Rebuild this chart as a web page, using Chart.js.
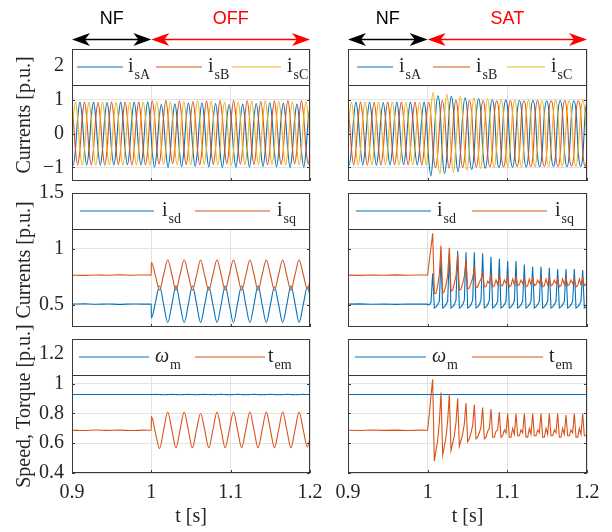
<!DOCTYPE html>
<html>
<head>
<meta charset="utf-8">
<script src="https://cdn.jsdelivr.net/npm/chart.js@4/dist/chart.umd.min.js"></script>
<style>
  body { margin: 0; background: #fff; }
  #fig { position: relative; width: 612px; height: 532px; overflow: hidden; }
  #fig canvas { position: absolute; }
</style>
</head>
<body>
<div id="fig">
  <canvas id="abcOff"></canvas>
  <canvas id="abcSat"></canvas>
  <canvas id="dqOff"></canvas>
  <canvas id="dqSat"></canvas>
  <canvas id="mechOff"></canvas>
  <canvas id="mechSat"></canvas>
</div>
<script>
// ---- ticks ----
const xTicks = [0.9, 1.0, 1.1, 1.2];
const yTicksAbc = [-1, 0, 1, 2];
const yTicksDq = [0.5, 1, 1.5];
const yTicksMech = [0.4, 0.6, 0.8, 1, 1.2];

// sample instants: start time + fixed step
const grid = (t0, dt, n) => Array.from({length: n}, (_, i) => +(t0 + i * dt).toFixed(5));
const abcTime = grid(0.8986, 0.002849, 107);
const preTime = [0.9, 0.915, 0.93, 0.945, 0.96, 0.975, 0.99, 0.9999];
const offTime = grid(1.0, 0.005175, 40);
const satTime = grid(1.0, 0.002092, 97);
const flatTime = [1.0, 1.05, 1.1, 1.15, 1.2];

// ---- phase currents, healthy part (same run for both cases) ----
const isA_nf = [-0.47,-0.93,-0.47,0.47,0.93,0.47, -0.46,-0.93,-0.47,0.47,0.93,0.46, -0.47,-0.93,-0.46,0.47,0.92,0.47,
  -0.47,-0.93,-0.47,0.46,0.93,0.47, -0.46,-0.92,-0.47,0.47,0.93,0.47, -0.47,-0.93,-0.47,0.47,0.93,0.46];
const isB_nf = [0.93,0.47,-0.46,-0.93,-0.47,0.46, 0.93,0.47,-0.47,-0.93,-0.46,0.47, 0.92,0.46,-0.47,-0.93,-0.47,0.47,
  0.93,0.47,-0.46,-0.92,-0.47,0.47, 0.93,0.46,-0.47,-0.93,-0.46,0.47, 0.93,0.47,-0.47,-0.93,-0.47,0.47];
const isC_nf = [-0.46,0.46,0.93,0.47,-0.47,-0.93, -0.47,0.47,0.93,0.46,-0.47,-0.93, -0.46,0.47,0.93,0.47,-0.46,-0.92,
  -0.47,0.47,0.93,0.47,-0.47,-0.93, -0.47,0.47,0.92,0.46,-0.47,-0.93, -0.46,0.46,0.93,0.47,-0.46,-0.93];

// ---- phase currents after the OFF fault ----
const isA_off = [-0.52,-0.99,-0.53,0.40,0.86,0.41, -0.51,-1.00,-0.52,0.42,0.88,0.43, -0.50,-0.98,-0.50,0.44,0.90,0.44,
  -0.49,-0.97,-0.49,0.45,0.91,0.45, -0.50,-0.98,-0.51,0.43,0.89,0.42, -0.52,-1.00,-0.53,0.41,0.86,0.40,
  -0.52,-0.99,-0.52,0.41,0.87,0.42, -0.51,-0.99,-0.51,0.43,0.89,0.44, -0.49,-0.97,-0.49,0.45,0.91,0.45,
  -0.50,-0.98,-0.50,0.44,0.90,0.43, -0.52,-1.00,-0.52,0.41,0.87,0.41, -0.52,-0.99,-0.52,0.42,0.88];
const isB_off = [0.97,0.50,-0.44,-0.90,-0.45,0.49, 0.98,0.51,-0.43,-0.89,-0.44,0.50, 0.96,0.49,-0.45,-0.91,-0.46,0.48,
  0.95,0.48,-0.46,-0.92,-0.47,0.47, 0.96,0.49,-0.45,-0.91,-0.45,0.49, 0.98,0.51,-0.43,-0.89,-0.43,0.50,
  0.98,0.50,-0.44,-0.90,-0.44,0.50, 0.97,0.49,-0.45,-0.91,-0.46,0.48, 0.95,0.48,-0.46,-0.92,-0.47,0.47,
  0.96,0.49,-0.45,-0.91,-0.45,0.49, 0.98,0.51,-0.43,-0.89,-0.44,0.50, 0.97,0.50,-0.44,-0.90,-0.45];
const isC_off = [-0.45,0.47,0.94,0.48,-0.44,-0.92, -0.46,0.46,0.93,0.47,-0.45,-0.93, -0.46,0.47,0.95,0.49,-0.44,-0.92,
  -0.45,0.49,0.97,0.50,-0.43,-0.91, -0.44,0.48,0.96,0.49,-0.44,-0.92, -0.46,0.46,0.93,0.47,-0.45,-0.93,
  -0.46,0.46,0.94,0.48,-0.45,-0.92, -0.45,0.48,0.96,0.49,-0.44,-0.91, -0.44,0.49,0.97,0.50,-0.43,-0.91,
  -0.45,0.48,0.95,0.49,-0.44,-0.92, -0.46,0.46,0.93,0.47,-0.45,-0.93, -0.46,0.47,0.94,0.48,-0.44];

// ---- phase currents after the SAT fault ----
const isA_sat = [-0.70,-1.25,-0.62,0.50,1.12,0.78, -0.55,-1.18,-0.70,0.58,1.10,0.66, -0.62,-1.12,-0.60,0.52,1.06,0.70,
  -0.60,-1.06,-0.62,0.56,1.03,0.64, -0.62,-1.02,-0.58,0.58,1.00,0.66, -0.60,-1.00,-0.62,0.60,0.99,0.62,
  -0.63,-0.99,-0.58,0.58,0.98,0.65, -0.60,-0.98,-0.62,0.62,0.98,0.60, -0.64,-0.98,-0.58,0.58,0.97,0.65,
  -0.60,-0.97,-0.62,0.62,0.98,0.60, -0.64,-0.98,-0.58,0.58,0.97,0.64, -0.60,-0.97,-0.62,0.62,0.98];
const isB_sat = [0.92,0.55,-0.55,-1.00,-0.62,0.40, 0.98,0.62,-0.48,-1.02,-0.58,0.50, 0.99,0.58,-0.52,-1.00,-0.60,0.52,
  0.98,0.60,-0.55,-0.99,-0.58,0.55, 0.98,0.58,-0.58,-0.98,-0.60,0.58, 0.97,0.62,-0.60,-0.98,-0.62,0.58,
  0.98,0.60,-0.62,-0.97,-0.60,0.62, 0.97,0.64,-0.60,-0.97,-0.64,0.60, 0.98,0.60,-0.64,-0.97,-0.60,0.64,
  0.97,0.64,-0.60,-0.97,-0.64,0.60, 0.98,0.60,-0.64,-0.96,-0.60,0.64, 0.97,0.64,-0.60,-0.97,-0.64];
const isC_sat = [-0.22,0.70,1.22,0.52,-0.74,-1.18, -0.43,0.56,1.16,0.60,-0.62,-1.14, -0.37,0.60,1.10,0.50,-0.62,-1.08,
  -0.44,0.58,1.06,0.56,-0.60,-1.04, -0.36,0.60,1.03,0.52,-0.64,-1.00, -0.37,0.62,1.00,0.56,-0.60,-0.99,
  -0.35,0.62,0.99,0.52,-0.64,-0.98, -0.37,0.60,0.99,0.56,-0.62,-0.98, -0.34,0.64,0.98,0.54,-0.64,-0.97,
  -0.37,0.60,0.99,0.56,-0.62,-0.97, -0.34,0.64,0.98,0.54,-0.64,-0.97, -0.37,0.60,0.99,0.56,-0.62];

// ---- dq currents, speed and torque before the fault ----
const isd_pre = [0.505,0.507,0.504,0.506,0.503,0.506,0.505,0.505];
const isq_pre = [0.765,0.762,0.766,0.763,0.767,0.764,0.766,0.765];
const wm_pre = [0.927,0.927,0.927,0.927,0.927,0.927,0.927,0.927];
const tem_pre = [0.687,0.685,0.689,0.686,0.688,0.685,0.688,0.687];

// ---- OFF ----
const isd_off = [0.38,0.52,0.67,0.50, 0.34,0.50,0.67,0.50, 0.34,0.50,0.67,0.51, 0.34,0.50,0.66,0.50, 0.34,0.50,0.67,0.50,
  0.34,0.51,0.67,0.50, 0.34,0.50,0.67,0.50, 0.34,0.50,0.66,0.50, 0.34,0.50,0.67,0.51, 0.34,0.50,0.66,0.50];
const isq_off = [0.88,0.76,0.63,0.77, 0.90,0.77,0.63,0.77, 0.90,0.77,0.63,0.76, 0.90,0.76,0.63,0.77, 0.90,0.77,0.63,0.77,
  0.90,0.77,0.63,0.76, 0.90,0.77,0.63,0.77, 0.90,0.77,0.63,0.77, 0.90,0.76,0.63,0.77, 0.90,0.77,0.64,0.77];
const wm_off = [0.927,0.928,0.927,0.926, 0.927,0.928,0.927,0.926, 0.927,0.928,0.927,0.926, 0.927,0.928,0.927,0.926,
  0.927,0.928,0.927,0.926, 0.927,0.928,0.927,0.926, 0.927,0.928,0.927,0.926, 0.927,0.928,0.927,0.926,
  0.927,0.928,0.927,0.926, 0.927,0.928,0.927,0.926];
const tem_off = [0.78,0.67,0.565,0.69, 0.81,0.69,0.57,0.69, 0.81,0.69,0.57,0.69, 0.80,0.69,0.57,0.69, 0.81,0.69,0.57,0.69,
  0.81,0.69,0.57,0.69, 0.81,0.69,0.57,0.69, 0.81,0.69,0.57,0.69, 0.81,0.69,0.57,0.69, 0.81,0.69,0.575,0.69];

// ---- SAT ----
const isd_sat = [0.50,0.50,0.52,0.78,0.47, 0.48,0.50,0.53,0.92,0.47, 0.48,0.50,0.53,0.96,0.47, 0.48,0.50,0.54,0.98,0.47,
  0.48,0.50,0.54,0.97,0.47, 0.48,0.50,0.54,0.97,0.47, 0.48,0.50,0.54,0.96,0.47, 0.48,0.50,0.54,0.93,0.47,
  0.48,0.50,0.53,0.91,0.47, 0.48,0.50,0.53,0.89,0.47, 0.48,0.50,0.53,0.89,0.47, 0.48,0.50,0.53,0.86,0.47,
  0.48,0.50,0.53,0.84,0.47, 0.48,0.50,0.53,0.84,0.47, 0.48,0.50,0.53,0.83,0.47, 0.48,0.50,0.53,0.82,0.47,
  0.48,0.50,0.53,0.82,0.47, 0.48,0.50,0.53,0.82,0.47, 0.48,0.50,0.53,0.81,0.47, 0.48,0.50];
const isq_sat = [0.77,0.90,1.01,1.14,0.60, 0.60,0.67,0.77,1.03,0.60, 0.62,0.68,0.76,1.01,0.62, 0.63,0.69,0.76,0.95,0.63,
  0.64,0.69,0.75,0.90,0.64, 0.65,0.69,0.74,0.83,0.65, 0.66,0.70,0.73,0.79,0.66, 0.66,0.71,0.69,0.77,0.66,
  0.67,0.72,0.68,0.76,0.67, 0.67,0.72,0.69,0.75,0.66, 0.67,0.73,0.68,0.75,0.67, 0.68,0.72,0.69,0.74,0.66,
  0.67,0.73,0.68,0.74,0.67, 0.68,0.72,0.69,0.74,0.66, 0.67,0.73,0.68,0.74,0.67, 0.68,0.72,0.69,0.73,0.66,
  0.67,0.73,0.68,0.74,0.67, 0.68,0.72,0.69,0.73,0.66, 0.67,0.73,0.68,0.74,0.67, 0.68,0.72];
const wm_sat = [0.927,0.927,0.927,0.927,0.927];
const tem_sat = [0.69,0.80,0.92,1.03,0.48, 0.55,0.62,0.74,0.94,0.52, 0.58,0.64,0.75,0.93,0.55, 0.60,0.65,0.74,0.90,0.58,
  0.62,0.66,0.73,0.87,0.61, 0.63,0.67,0.72,0.86,0.63, 0.64,0.67,0.71,0.84,0.63, 0.64,0.68,0.70,0.83,0.64,
  0.64,0.68,0.69,0.81,0.64, 0.65,0.69,0.67,0.80,0.64, 0.64,0.70,0.66,0.80,0.65, 0.65,0.69,0.67,0.80,0.64,
  0.64,0.70,0.66,0.80,0.65, 0.65,0.69,0.67,0.80,0.64, 0.64,0.70,0.66,0.80,0.65, 0.65,0.69,0.67,0.80,0.64,
  0.64,0.70,0.66,0.79,0.65, 0.65,0.69,0.67,0.80,0.64, 0.64,0.70,0.66,0.80,0.65, 0.65,0.69];

// ---- styling ----
const BLUE = '#0072BD', ORANGE = '#D95319', YELLOW = '#EDB120';
const INK = '#262626', AXIS = '#3a3a3a', GRID = '#e2e2e2';
const SERIF = '"Liberation Serif", "Times New Roman", serif';
const SANS = '"Liberation Sans", Arial, sans-serif';
const LEGEND_H = 36;

const pts = (ts, vs) => vs.map((v, i) => ({x: ts[i], y: v}));
function series(color, ts, vs, smooth, order) {
  return {data: pts(ts, vs), borderColor: color, borderWidth: 1.1, pointRadius: 0, fill: false,
    cubicInterpolationMode: smooth ? 'monotone' : 'default', tension: 0, order};
}
const fmt = v => { const r = Math.round(v * 10) / 10; return r < 0 ? '\u2212' + Math.abs(r) : String(r); };

function arrowHead(ctx, tipX, y, dir) {
  ctx.beginPath();
  ctx.moveTo(tipX, y);
  ctx.lineTo(tipX + dir * 18, y - 6.5);
  ctx.lineTo(tipX + dir * 13, y);
  ctx.lineTo(tipX + dir * 18, y + 6.5);
  ctx.closePath();
  ctx.fill();
}

// frame, inward ticks, legend strip, y title and phase header
function framePlugin(cfg) {
  return {
    id: 'frame',
    afterDatasetsDraw(chart) {
      const {ctx, chartArea: a, scales: {x, y}} = chart;
      ctx.save();
      ctx.strokeStyle = AXIS;
      ctx.lineWidth = 1;
      ctx.beginPath();
      xTicks.forEach(v => {
        const px = Math.round(x.getPixelForValue(v)) + 0.5;
        ctx.moveTo(px, a.bottom); ctx.lineTo(px, a.bottom - 3);
      });
      cfg.yTicks.forEach(v => {
        const py = Math.round(y.getPixelForValue(v)) + 0.5;
        ctx.moveTo(a.left, py); ctx.lineTo(a.left + 3, py);
        ctx.moveTo(a.right, py); ctx.lineTo(a.right - 3, py);
      });
      ctx.stroke();

      // legend strip across the top of the axes
      ctx.fillStyle = '#fff';
      ctx.fillRect(a.left, a.top, a.right - a.left, LEGEND_H);
      ctx.beginPath();
      ctx.moveTo(a.left, a.top + LEGEND_H + 0.5);
      ctx.lineTo(a.right, a.top + LEGEND_H + 0.5);
      ctx.stroke();
      ctx.strokeRect(a.left + 0.5, a.top + 0.5, a.right - a.left - 1, a.bottom - a.top - 1);

      const ly = a.top + 18;
      cfg.legend.forEach(it => {
        ctx.strokeStyle = it.color;
        ctx.lineWidth = 1.2;
        ctx.beginPath();
        ctx.moveTo(a.left + it.x0, ly);
        ctx.lineTo(a.left + it.x1, ly);
        ctx.stroke();
        ctx.fillStyle = INK;
        ctx.textAlign = 'left';
        ctx.textBaseline = 'alphabetic';
        ctx.font = (it.italic ? 'italic ' : '') + '20px ' + SERIF;
        const tx = a.left + it.tx;
        ctx.fillText(it.main, tx, ly + 5);
        const w = ctx.measureText(it.main).width;
        ctx.font = '14px ' + SERIF;
        ctx.fillText(it.sub, tx + w + 1, ly + 12);
      });

      if (cfg.yTitle) {
        ctx.save();
        ctx.translate(25, (a.top + a.bottom) / 2);
        ctx.rotate(-Math.PI / 2);
        ctx.fillStyle = INK;
        ctx.font = '20px ' + SERIF;
        ctx.textAlign = 'center';
        ctx.textBaseline = 'middle';
        ctx.fillText(cfg.yTitle, 0, 0);
        ctx.restore();
      }

      if (cfg.phases) {
        const yA = 39.5;
        cfg.phases.forEach(p => {
          const x0 = x.getPixelForValue(p.from), x1 = x.getPixelForValue(p.to);
          ctx.strokeStyle = p.color;
          ctx.fillStyle = p.color;
          ctx.lineWidth = 1.3;
          ctx.beginPath();
          ctx.moveTo(x0 + 12, yA); ctx.lineTo(x1 - 12, yA);
          ctx.stroke();
          arrowHead(ctx, x0, yA, 1);
          arrowHead(ctx, x1, yA, -1);
          ctx.font = '18px ' + SANS;
          ctx.textAlign = 'center';
          ctx.textBaseline = 'middle';
          ctx.fillText(p.label, (x0 + x1) / 2, 19);
        });
      }
      ctx.restore();
    }
  };
}

const COLS = {
  left: {left: 0, width: 330, yWidth: 72, padRight: 20, labels: true},
  right: {left: 320, width: 292, yWidth: 28, padRight: 25, labels: false}
};
const ROWS = {
  top: {top: 0, height: 182, padTop: 49, padBottom: 1, xHeight: 0, showX: false},
  mid: {top: 175, height: 153, padTop: 18, padBottom: 1, xHeight: 0, showX: false},
  bot: {top: 320, height: 212, padTop: 19, padBottom: 0, xHeight: 59, showX: true}
};

function makePanel(id, col, row, cfg) {
  const canvas = document.getElementById(id);
  canvas.style.left = col.left + 'px';
  canvas.style.top = row.top + 'px';
  canvas.width = col.width;
  canvas.height = row.height;
  const tickFont = {family: SERIF, size: 20};
  return new Chart(canvas, {
    type: 'line',
    data: {datasets: cfg.datasets},
    options: {
      responsive: false,
      animation: false,
      devicePixelRatio: 1,
      layout: {padding: {left: 0, right: col.padRight, top: row.padTop, bottom: row.padBottom}},
      plugins: {legend: {display: false}, tooltip: {enabled: false}},
      scales: {
        x: {
          type: 'linear', min: 0.9, max: 1.2,
          afterBuildTicks: s => { s.ticks = xTicks.map(v => ({value: v})); },
          afterFit: s => { s.height = row.xHeight; s.paddingLeft = 0; s.paddingRight = 0; },
          ticks: {display: row.showX, padding: 8, color: INK, font: tickFont, maxRotation: 0, autoSkip: false, callback: fmt},
          grid: {color: GRID, drawTicks: false},
          border: {display: false},
          title: {display: row.showX, text: 't [s]', color: INK, font: tickFont, padding: {top: 0, bottom: 3}}
        },
        y: {
          type: 'linear', min: cfg.yMin, max: cfg.yMax,
          afterBuildTicks: s => { s.ticks = cfg.yTicks.map(v => ({value: v})); },
          afterFit: s => { s.width = col.yWidth; s.paddingTop = 0; s.paddingBottom = 0; },
          ticks: {display: col.labels, padding: 8, color: INK, font: tickFont, autoSkip: false, callback: fmt},
          grid: {color: GRID, drawTicks: false},
          border: {display: false}
        }
      }
    },
    plugins: [framePlugin({
      yTicks: cfg.yTicks,
      legend: cfg.legend,
      yTitle: col.labels ? cfg.yTitle : null,
      phases: cfg.phases
    })]
  });
}

const abcLegendL = [
  {x0: 5, x1: 51, tx: 56, color: BLUE, main: 'i', sub: 'sA'},
  {x0: 84, x1: 130, tx: 136, color: ORANGE, main: 'i', sub: 'sB'},
  {x0: 160, x1: 209, tx: 215, color: YELLOW, main: 'i', sub: 'sC'}];
const abcLegendR = [
  {x0: 9, x1: 45, tx: 51, color: BLUE, main: 'i', sub: 'sA'},
  {x0: 85, x1: 122, tx: 128, color: ORANGE, main: 'i', sub: 'sB'},
  {x0: 159, x1: 197, tx: 203, color: YELLOW, main: 'i', sub: 'sC'}];
const dqLegendL = [
  {x0: 8, x1: 82, tx: 90, color: BLUE, main: 'i', sub: 'sd'},
  {x0: 123, x1: 198, tx: 205, color: ORANGE, main: 'i', sub: 'sq'}];
const dqLegendR = [
  {x0: 8, x1: 83, tx: 89, color: BLUE, main: 'i', sub: 'sd'},
  {x0: 124, x1: 199, tx: 207, color: ORANGE, main: 'i', sub: 'sq'}];
const mechLegendL = [
  {x0: 7, x1: 77, tx: 83, color: BLUE, main: '\u03c9', sub: 'm', italic: true},
  {x0: 123, x1: 193, tx: 196, color: ORANGE, main: 't', sub: 'em'}];
const mechLegendR = [
  {x0: 7, x1: 78, tx: 84, color: BLUE, main: '\u03c9', sub: 'm', italic: true},
  {x0: 124, x1: 195, tx: 201, color: ORANGE, main: 't', sub: 'em'}];

// phase currents
makePanel('abcOff', COLS.left, ROWS.top, {
  yMin: -1.4, yMax: 2.5, yTicks: yTicksAbc, yTitle: 'Currents [p.u.]', legend: abcLegendL,
  phases: [{label: 'NF', from: 0.9, to: 1.0, color: '#000'}, {label: 'OFF', from: 1.0, to: 1.2, color: '#ff0000'}],
  datasets: [
    series(BLUE, abcTime, isA_nf.concat(isA_off), true, 3),
    series(ORANGE, abcTime, isB_nf.concat(isB_off), true, 2),
    series(YELLOW, abcTime, isC_nf.concat(isC_off), true, 1)]
});
makePanel('abcSat', COLS.right, ROWS.top, {
  yMin: -1.4, yMax: 2.5, yTicks: yTicksAbc, legend: abcLegendR,
  phases: [{label: 'NF', from: 0.9, to: 1.0, color: '#000'}, {label: 'SAT', from: 1.0, to: 1.2, color: '#ff0000'}],
  datasets: [
    series(BLUE, abcTime, isA_nf.concat(isA_sat), true, 3),
    series(ORANGE, abcTime, isB_nf.concat(isB_sat), true, 2),
    series(YELLOW, abcTime, isC_nf.concat(isC_sat), true, 1)]
});

// dq currents
makePanel('dqOff', COLS.left, ROWS.mid, {
  yMin: 0.3, yMax: 1.5, yTicks: yTicksDq, yTitle: 'Currents [p.u.]', legend: dqLegendL,
  datasets: [
    series(BLUE, preTime.concat(offTime), isd_pre.concat(isd_off), true, 2),
    series(ORANGE, preTime.concat(offTime), isq_pre.concat(isq_off), true, 1)]
});
makePanel('dqSat', COLS.right, ROWS.mid, {
  yMin: 0.3, yMax: 1.5, yTicks: yTicksDq, legend: dqLegendR,
  datasets: [
    series(BLUE, preTime.concat(satTime), isd_pre.concat(isd_sat), false, 2),
    series(ORANGE, preTime.concat(satTime), isq_pre.concat(isq_sat), false, 1)]
});

// speed and torque
makePanel('mechOff', COLS.left, ROWS.bot, {
  yMin: 0.4, yMax: 1.3, yTicks: yTicksMech, yTitle: 'Speed, Torque [p.u.]', legend: mechLegendL,
  datasets: [
    series(BLUE, preTime.concat(offTime), wm_pre.concat(wm_off), true, 2),
    series(ORANGE, preTime.concat(offTime), tem_pre.concat(tem_off), true, 1)]
});
makePanel('mechSat', COLS.right, ROWS.bot, {
  yMin: 0.4, yMax: 1.3, yTicks: yTicksMech, legend: mechLegendR,
  datasets: [
    series(BLUE, preTime.concat(flatTime), wm_pre.concat(wm_sat), false, 2),
    series(ORANGE, preTime.concat(satTime), tem_pre.concat(tem_sat), false, 1)]
});
</script>
</body>
</html>
